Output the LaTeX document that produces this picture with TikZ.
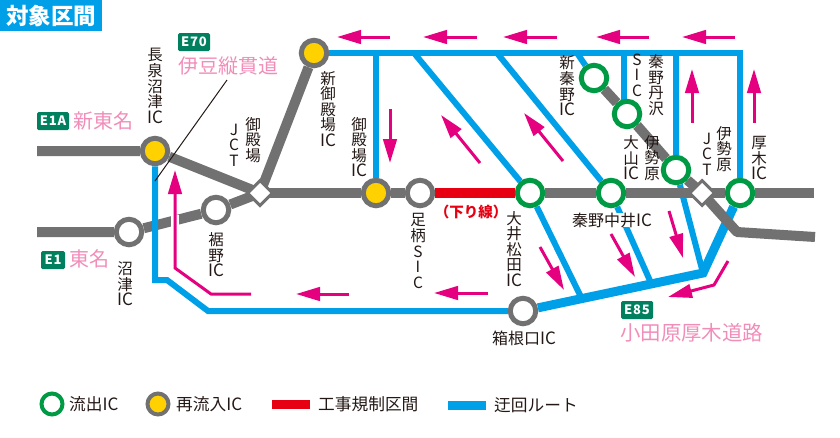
\documentclass[tikz,border=0pt]{standalone}
\usepackage{fontspec}
\setmainfont{Noto Sans CJK JP}
\usepackage{tikz}
\usetikzlibrary{arrows.meta, shapes.geometric}
\pgfdeclarelayer{lines}
\pgfsetlayers{lines,main}
\newcommand{\icmark}{{\fontsize{17}{15.6}\selectfont IC}}
\definecolor{roadgrey}{HTML}{727171}
\definecolor{routeblue}{HTML}{00A0E9}
\definecolor{markpink}{HTML}{E4007F}
\definecolor{exitgreen}{HTML}{009944}
\definecolor{icyellow}{HTML}{FFD100}
\definecolor{workred}{HTML}{E60012}
\definecolor{namepink}{HTML}{F18DB9}
\definecolor{badgegreen}{HTML}{00805F}
\definecolor{inkdark}{HTML}{231815}
\begin{document}
\begin{tikzpicture}[x=1pt, y=-1pt, >={Triangle[length=24pt,width=13.5pt]},
	road/.style={draw=roadgrey, line width=10pt},
	route/.style={draw=routeblue, line width=6pt},
	trunk/.style={draw=routeblue, line width=9pt},
	pinkarrow/.style={->, draw=markpink, line width=3pt},
	exitic/.style={circle, draw=exitgreen, fill=white, line width=5pt, minimum size=25.5pt, inner sep=0pt},
	backic/.style={circle, draw=roadgrey, fill=icyellow, line width=5pt, minimum size=25.5pt, inner sep=0pt},
	plainic/.style={circle, draw=roadgrey, fill=white, line width=5pt, minimum size=25.5pt, inner sep=0pt},
	jct/.style={diamond, draw=roadgrey, fill=white, line width=3pt, minimum size=26pt, inner sep=0pt},
	vlabel/.style={align=center, inner sep=0pt, text=inkdark, font=\fontsize{15.5}{15.6}\selectfont},
	hlabel/.style={inner sep=0pt, text=inkdark, font=\fontsize{16}{16}\selectfont},
	legendtext/.style={anchor=west, inner sep=0pt, text=inkdark, font=\fontsize{16.7}{18}\selectfont},
	roadname/.style={anchor=west, inner sep=0pt, text=namepink, font=\fontsize{20}{22}\selectfont},
	badge/.style={fill=badgegreen, rounded corners=1.5pt, text=white, inner sep=0pt, minimum height=18pt, font=\bfseries\fontsize{13}{14}\selectfont\addfontfeature{LetterSpace=6}}]
	\useasboundingbox (0,0) rectangle (840,437);

	\node[fill=routeblue, text=white, inner sep=0pt, minimum width=102pt, minimum height=31pt, font=\bfseries\fontsize{22.5}{24}\selectfont] (title) at (51,15.5) {対象区間};

	\coordinate (e1aend) at (37,151);
	\coordinate (e1end) at (37,232);
	\coordinate (mainend) at (814,193);
	\coordinate (bendroad) at (737,232);
	\coordinate (bendend) at (815,237);
	\coordinate (topright) at (740,53);
	\coordinate (top412) at (414,53);
	\coordinate (top497) at (497,53);
	\coordinate (top577) at (577,53);
	\coordinate (top624) at (624,53);
	\coordinate (stub624) at (624,100);
	\coordinate (top376) at (376,53);
	\coordinate (top676) at (676,53);
	\coordinate (low580) at (581,297);
	\coordinate (low650) at (651,283);
	\coordinate (lowjoin) at (703,273);
	\coordinate (westa) at (155,280);
	\coordinate (westb) at (167,280);
	\coordinate (westc) at (208,311);
	\coordinate (gapa) at (175,215);
	\coordinate (gapb) at (175,238);

	\node[plainic] (numazu) at (129,232) {};
	\node[backic] (nagaizumi) at (155,151) {};
	\node[plainic] (susono) at (216,210) {};
	\node[backic] (shingotemba) at (314,53) {};
	\node[backic] (gotemba) at (376,193) {};
	\node[plainic] (ashigara) at (420,193) {};
	\node[exitic] (oimatsuda) at (530,193) {};
	\node[exitic] (nakai) at (611,193) {};
	\node[exitic] (shinhadano) at (594,78) {};
	\node[exitic] (tanzawa) at (627,114) {};
	\node[exitic] (isehara) at (676,170) {};
	\node[exitic] (atsugi) at (740,193) {};
	\node[plainic] (hakone) at (523,311) {};
	\node[jct] (gotembajct) at (260,193) {};
	\node[jct] (iseharajct) at (702,193) {};

	\begin{pgfonlayer}{lines}
		\path[route] (shingotemba) -- (topright) -- (atsugi);
		\path[route] (top376) -- (gotemba);
		\path[route] (top412) -- (oimatsuda) -- (low580);
		\path[route] (top497) -- (nakai) -- (low650);
		\path[route] (top577) -- (shinhadano);
		\path[route] (top624) -- (stub624);
		\path[route] (top676) -- (isehara) -- (lowjoin);
		\path[trunk] (hakone) -- (lowjoin) -- (atsugi);

		\path[road] (e1aend) -- (nagaizumi) -- (gotembajct.center);
		\path[road] (e1end) -- (numazu) -- (susono) -- (gotembajct.center);
		\path[road] (gotembajct.center) -- (shingotemba);
		\path[road] (gotembajct.center) -- (gotemba) -- (ashigara);
		\path[road] (oimatsuda) -- (nakai) -- (atsugi) -- (mainend);
		\path[road, line join=round] (shinhadano) -- (tanzawa) -- (isehara) -- (iseharajct.center) -- (bendroad) -- (bendend);
		\path[draw=workred, line width=10pt] (ashigara) -- (oimatsuda);
		\path[route, line join=miter] (nagaizumi) -- (westa) -- (westb) -- (westc) -- (hakone);
		\path[draw=white, line width=8pt] (gapa) -- (gapb);
	\end{pgfonlayer}

	\foreach \i/\ax/\ay/\bx/\by in {1/390/37/337/37, 2/477/37/423/37, 3/557/37/503/37, 4/649/37/596/37, 5/735/37/682/37,
		6/692/123/692/69, 7/754/123/754/69, 8/390/109/390/163, 9/480/163/441/115, 10/563/161/524/113,
		11/540/247/564/290, 12/611/234/635/277, 13/669/211/683/258, 14/488/293/434/293, 15/349/294/296/294} {
		\coordinate (pa\i) at (\ax,\ay);
		\coordinate (pb\i) at (\bx,\by);
		\draw[pinkarrow] (pa\i) -- (pb\i);
	}
	\coordinate (benta) at (251,294);
	\coordinate (bentb) at (211,294);
	\coordinate (bentc) at (175,268);
	\coordinate (bentd) at (175,170);
	\draw[pinkarrow] (benta) -- (bentb) -- (bentc) -- (bentd);
	\coordinate (bente) at (728,261);
	\coordinate (bentf) at (714,285);
	\coordinate (bentg) at (668,297);
	\draw[pinkarrow] (bente) -- (bentf) -- (bentg);

	\coordinate (leaderup) at (227,80);
	\coordinate (leaderdown) at (155,181);
	\draw[draw=inkdark, line width=1pt] (leaderup) -- (leaderdown);

	\node[badge, minimum width=32pt] (e70) at (194,42) {E70};
	\node[roadname] (izuname) at (178,66) {伊豆縦貫道};
	\node[badge, minimum width=32pt] (e1a) at (53,121) {E1A};
	\node[roadname] (shintomei) at (73,121) {新東名};
	\node[badge, minimum width=24pt] (e1) at (53,260) {E1};
	\node[roadname] (tomei) at (69,259) {東名};
	\node[badge, minimum width=32pt] (e85) at (637,310) {E85};
	\node[roadname, font=\fontsize{20.4}{22}\selectfont] (odawara) at (620,333) {小田原厚木道路};

	\node[vlabel] (lblnagaizumi) at (155,86) {長\\泉\\沼\\津\\\icmark};
	\node[vlabel] (lblgotembaj) at (253,140) {御\\殿\\場};
	\node[vlabel] (lbljct) at (234,145) {J\\C\\T};
	\node[vlabel] (lblshingotemba) at (328,109) {新\\御\\殿\\場\\\icmark};
	\node[vlabel] (lblgotemba) at (359,147) {御\\殿\\場\\\icmark};
	\node[vlabel] (lblashigara) at (418,251) {足\\柄\\S\\I\\C};
	\node[vlabel] (lblsusono) at (216,255) {裾\\野\\\icmark};
	\node[vlabel] (lblnumazu) at (125,284) {沼\\津\\\icmark};
	\node[vlabel] (lblshinhadano) at (567,86) {新\\秦\\野\\\icmark};
	\node[vlabel] (lbltanzawa) at (656,85) {秦\\野\\丹\\沢};
	\node[vlabel] (lblsic) at (637,75) {S\\I\\C};
	\node[vlabel] (lbloyama) at (631,158) {大\\山\\\icmark};
	\node[vlabel] (lblisehara) at (652,158) {伊\\勢\\原};
	\node[vlabel] (lblijct) at (707,154) {J\\C\\T};
	\node[vlabel] (lblisejct) at (724,149) {伊\\勢\\原};
	\node[vlabel] (lblatsugi) at (759,158) {厚\\木\\\icmark};
	\node[vlabel] (lbloimatsuda) at (514,249) {大\\井\\松\\田\\\icmark};
	\node[hlabel, fill=white] (lblnakai) at (612,220) {秦野中井\icmark};
	\node[hlabel] (lblhakone) at (524,338) {箱根口\icmark};
	\node[inner sep=0pt, text=workred, font=\bfseries\fontsize{14.5}{15}\selectfont] (lbldown) at (471,212) {（下り線）};

	\node[exitic, line width=4pt, minimum size=21pt] (legendexit) at (52,404) {};
	\node[legendtext] (legendexittext) at (69,404) {流出\icmark};
	\node[backic, line width=4pt, minimum size=21pt] (legendback) at (158,404) {};
	\node[legendtext] (legendbacktext) at (176,404) {再流入\icmark};
	\coordinate (redleft) at (272,404);
	\coordinate (redright) at (310,404);
	\path[draw=workred, line width=9pt] (redleft) -- (redright);
	\node[legendtext] (legendredtext) at (318,404) {工事規制区間};
	\coordinate (blueleft) at (448,405);
	\coordinate (blueright) at (486,405);
	\path[draw=routeblue, line width=9pt] (blueleft) -- (blueright);
	\node[legendtext] (legendbluetext) at (494,405) {迂回ルート};
\end{tikzpicture}
\end{document}
